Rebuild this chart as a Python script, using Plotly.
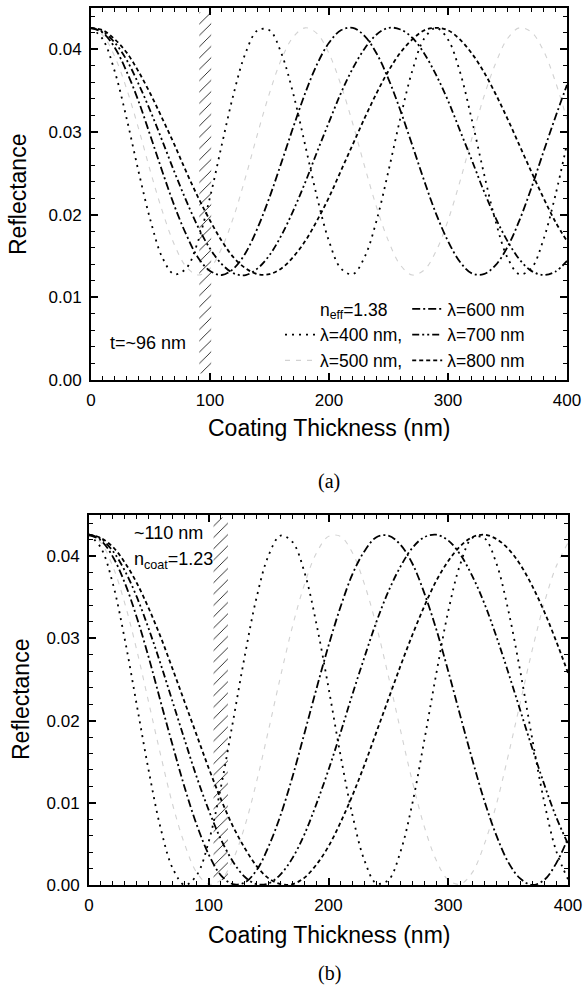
import plotly.graph_objects as go

# ---------------- data ----------------
thickness = list(range(0, 401, 10))  # nm

# panel (a): n_eff = 1.38
a_400 = [0.0426,0.0412,0.0373,0.0316,0.0252,0.0193,0.0148,0.0128,0.0135,0.0168,0.0221,
         0.0285,0.0347,0.0396,0.0423,0.0423,0.0395,0.0346,0.0284,0.0221,0.0168,0.0135,
         0.0128,0.0149,0.0193,0.0253,0.0317,0.0374,0.0413,0.0426,0.0412,0.0373,0.0315,
         0.0251,0.0192,0.0148,0.0128,0.0135,0.0169,0.0222,0.0286]
a_500 = [0.0426,0.0417,0.0391,0.0352,0.0304,0.0252,0.0204,0.0164,0.0137,0.0127,0.0135,
         0.0160,0.0198,0.0246,0.0298,0.0347,0.0388,0.0415,0.0426,0.0419,0.0395,0.0357,
         0.0310,0.0258,0.0209,0.0168,0.0139,0.0127,0.0133,0.0156,0.0193,0.0240,0.0292,
         0.0342,0.0383,0.0413,0.0426,0.0421,0.0399,0.0362,0.0315]
a_600 = [0.0426,0.0420,0.0402,0.0373,0.0337,0.0295,0.0252,0.0211,0.0176,0.0148,0.0132,
         0.0127,0.0135,0.0154,0.0184,0.0221,0.0263,0.0306,0.0347,0.0382,0.0408,0.0423,
         0.0426,0.0416,0.0395,0.0364,0.0326,0.0284,0.0241,0.0201,0.0168,0.0143,0.0129,
         0.0128,0.0139,0.0161,0.0193,0.0232,0.0275,0.0317,0.0357]
a_700 = [0.0426,0.0421,0.0408,0.0387,0.0358,0.0325,0.0289,0.0252,0.0217,0.0185,0.0159,
         0.0140,0.0129,0.0127,0.0135,0.0151,0.0175,0.0205,0.0239,0.0276,0.0312,0.0347,
         0.0377,0.0401,0.0418,0.0426,0.0424,0.0414,0.0395,0.0369,0.0338,0.0302,0.0266,
         0.0229,0.0196,0.0168,0.0146,0.0132,0.0127,0.0131,0.0144]
a_800 = [0.0426,0.0423,0.0412,0.0396,0.0373,0.0346,0.0316,0.0285,0.0252,0.0221,0.0193,
         0.0168,0.0148,0.0135,0.0128,0.0128,0.0135,0.0149,0.0168,0.0193,0.0221,0.0253,
         0.0285,0.0317,0.0347,0.0374,0.0396,0.0412,0.0423,0.0426,0.0423,0.0412,0.0395,
         0.0373,0.0346,0.0316,0.0284,0.0252,0.0221,0.0192,0.0168]

# panel (b): n_coat = 1.23
b_400 = [0.0426,0.0410,0.0366,0.0298,0.0218,0.0138,0.0068,0.0020,0.0000,0.0012,0.0053,
         0.0118,0.0197,0.0278,0.0350,0.0401,0.0425,0.0417,0.0380,0.0317,0.0240,0.0158,
         0.0085,0.0030,0.0002,0.0006,0.0040,0.0099,0.0176,0.0257,0.0333,0.0390,0.0422,
         0.0422,0.0392,0.0335,0.0261,0.0179,0.0102,0.0042,0.0007]
b_500 = [0.0426,0.0416,0.0387,0.0342,0.0285,0.0221,0.0157,0.0097,0.0049,0.0015,0.0001,
         0.0006,0.0030,0.0071,0.0126,0.0189,0.0254,0.0315,0.0366,0.0404,0.0424,0.0424,
         0.0404,0.0366,0.0315,0.0254,0.0189,0.0126,0.0071,0.0030,0.0006,0.0001,0.0015,
         0.0049,0.0097,0.0157,0.0221,0.0285,0.0342,0.0387,0.0416]
b_600 = [0.0426,0.0419,0.0399,0.0367,0.0325,0.0276,0.0222,0.0169,0.0118,0.0073,0.0037,
         0.0012,0.0001,0.0003,0.0018,0.0047,0.0085,0.0132,0.0185,0.0239,0.0291,0.0338,
         0.0378,0.0406,0.0423,0.0425,0.0414,0.0391,0.0355,0.0311,0.0260,0.0206,0.0153,
         0.0103,0.0061,0.0028,0.0008,0.0000,0.0006,0.0026,0.0057]
b_700 = [0.0426,0.0421,0.0406,0.0382,0.0350,0.0311,0.0268,0.0222,0.0176,0.0131,0.0091,
         0.0056,0.0029,0.0010,0.0001,0.0002,0.0013,0.0033,0.0062,0.0099,0.0140,0.0185,
         0.0232,0.0277,0.0320,0.0357,0.0387,0.0410,0.0423,0.0426,0.0419,0.0402,0.0376,
         0.0343,0.0303,0.0259,0.0213,0.0167,0.0123,0.0083,0.0050]
b_800 = [0.0426,0.0422,0.0411,0.0392,0.0367,0.0336,0.0301,0.0262,0.0222,0.0182,0.0142,
         0.0105,0.0072,0.0045,0.0023,0.0008,0.0001,0.0001,0.0009,0.0025,0.0047,0.0076,
         0.0109,0.0146,0.0186,0.0226,0.0266,0.0304,0.0339,0.0370,0.0394,0.0412,0.0423,
         0.0426,0.0421,0.0409,0.0390,0.0364,0.0333,0.0297,0.0258]

# hatched marker bands (nm): centre, width, bottom, top
band_a = dict(center=96, width=10, bottom=0.0008, top=0.0445)
band_b = dict(center=110, width=12, bottom=0.0006, top=0.0447)

x_ticks = [0, 100, 200, 300, 400]
y_ticks = [0.00, 0.01, 0.02, 0.03, 0.04]

# ---------------- styles ----------------
FONT = "Liberation Sans"
styles = {
    "400": dict(color="black", width=1.8, dash="2px,5px"),
    "500": dict(color="#d2d2d2", width=1.1, dash="5px,6px"),
    "600": dict(color="black", width=1.8, dash="8px,3px,2px,3px"),
    "700": dict(color="black", width=1.8, dash="7px,3px,2px,3px,2px,3px"),
    "800": dict(color="black", width=1.8, dash="4px,3px"),
}
names = {"400": "\u03bb=400 nm,", "500": "\u03bb=500 nm,", "600": "\u03bb=600 nm",
         "700": "\u03bb=700 nm", "800": "\u03bb=800 nm"}
groups = {"400": "g1", "500": "g1", "600": "g2", "700": "g2", "800": "g2"}

fig = go.Figure()

# legend header entry (no line)
fig.add_trace(go.Scatter(x=[None], y=[None], mode="lines", name="n<sub>eff</sub>=1.38",
                         line=dict(color="rgba(0,0,0,0)"), legendgroup="g1",
                         xaxis="x", yaxis="y", hoverinfo="skip"))

panel_a = {"400": a_400, "500": a_500, "600": a_600, "700": a_700, "800": a_800}
panel_b = {"400": b_400, "500": b_500, "600": b_600, "700": b_700, "800": b_800}

for key, vals in panel_a.items():
    fig.add_trace(go.Scatter(x=thickness, y=vals, mode="lines", name=names[key],
                             line=dict(shape="spline", **styles[key]),
                             legendgroup=groups[key], xaxis="x", yaxis="y"))
for key, vals in panel_b.items():
    fig.add_trace(go.Scatter(x=thickness, y=vals, mode="lines", name=names[key],
                             line=dict(shape="spline", **styles[key]),
                             showlegend=False, xaxis="x2", yaxis="y2"))

for band, xa_, ya_ in [(band_a, "x", "y"), (band_b, "x2", "y2")]:
    fig.add_trace(go.Bar(x=[band["center"]], y=[band["top"] - band["bottom"]],
                         base=[band["bottom"]], width=[band["width"]],
                         marker=dict(color="rgba(0,0,0,0)", line=dict(width=0),
                                     pattern=dict(shape="/", fgcolor="black", fgopacity=1,
                                                  bgcolor="rgba(0,0,0,0)",
                                                  size=8, solidity=0.1)),
                         showlegend=False, xaxis=xa_, yaxis=ya_, hoverinfo="skip"))

W, H = 585, 986

def xdom(l, r):
    return [l / W, r / W]

def ydom(top, bottom):
    return [1 - bottom / H, 1 - top / H]

axis_common = dict(showline=True, linewidth=2, linecolor="black", mirror="ticks",
                   ticks="inside", ticklen=7, tickwidth=1.5, tickcolor="black",
                   showgrid=False, zeroline=False, automargin=False,
                   tickfont=dict(family=FONT, size=17, color="black"),
                   ticklabelstandoff=4)

xa = dict(axis_common, range=[0, 400], tickvals=x_ticks,
          minor=dict(dtick=10, ticklen=4, tickwidth=1.2, ticks="inside", tickcolor="black"))
ya = dict(axis_common, range=[0, 0.045], tickvals=y_ticks, tickformat=".2f",
          minor=dict(dtick=0.002, ticklen=4, tickwidth=1.2, ticks="inside", tickcolor="black"))

fig.update_layout(
    width=W, height=H, autosize=False,
    margin=dict(l=0, r=0, t=0, b=0, pad=0, autoexpand=False),
    paper_bgcolor="white", plot_bgcolor="white",
    font=dict(family=FONT, color="black"),
    xaxis=dict(xa, domain=xdom(91, 567), anchor="y"),
    yaxis=dict(ya, domain=ydom(8, 380), anchor="x"),
    xaxis2=dict(xa, domain=xdom(89, 568), anchor="y2"),
    yaxis2=dict(ya, domain=ydom(515, 885), anchor="x2"),
    showlegend=True,
    legend=dict(orientation="h", traceorder="grouped", x=280 / W, y=1 - 291 / H,
                xanchor="left", yanchor="top", bgcolor="rgba(0,0,0,0)", borderwidth=0,
                font=dict(family=FONT, size=17.5, color="black"), itemwidth=30,
                itemclick=False, itemdoubleclick=False),
    barmode="overlay",
)

ann = []
def pann(text, px, py, size, angle=0, family=FONT):
    ann.append(dict(text=text, x=px / W, y=1 - py / H, xref="paper", yref="paper",
                    showarrow=False, textangle=angle, xanchor="center", yanchor="middle",
                    font=dict(family=family, size=size, color="black")))

pann("Reflectance", 18, 195, 23, angle=-90)
pann("Reflectance", 21, 700, 23, angle=-90)
pann("Coating Thickness (nm)", 329, 428, 23)
pann("Coating Thickness (nm)", 329, 935, 23)
pann("(a)", 329, 481, 20, family="Liberation Serif")
pann("(b)", 329, 973, 20, family="Liberation Serif")

ann.append(dict(text="t=~96 nm", x=14, y=0.0045, xref="x", yref="y", showarrow=False,
                xanchor="left", yanchor="middle", font=dict(family=FONT, size=18, color="black")))
ann.append(dict(text="~110 nm", x=36, y=0.0428, xref="x2", yref="y2", showarrow=False,
                xanchor="left", yanchor="middle", font=dict(family=FONT, size=18, color="black")))
ann.append(dict(text="n<sub>coat</sub>=1.23", x=36, y=0.0395, xref="x2", yref="y2", showarrow=False,
                xanchor="left", yanchor="middle", font=dict(family=FONT, size=18, color="black")))
fig.update_layout(annotations=ann)

fig.write_html("out.html",
               config={"responsive": False, "displayModeBar": False},
               post_script="document.body.style.margin='0';document.body.style.overflow='hidden';")
